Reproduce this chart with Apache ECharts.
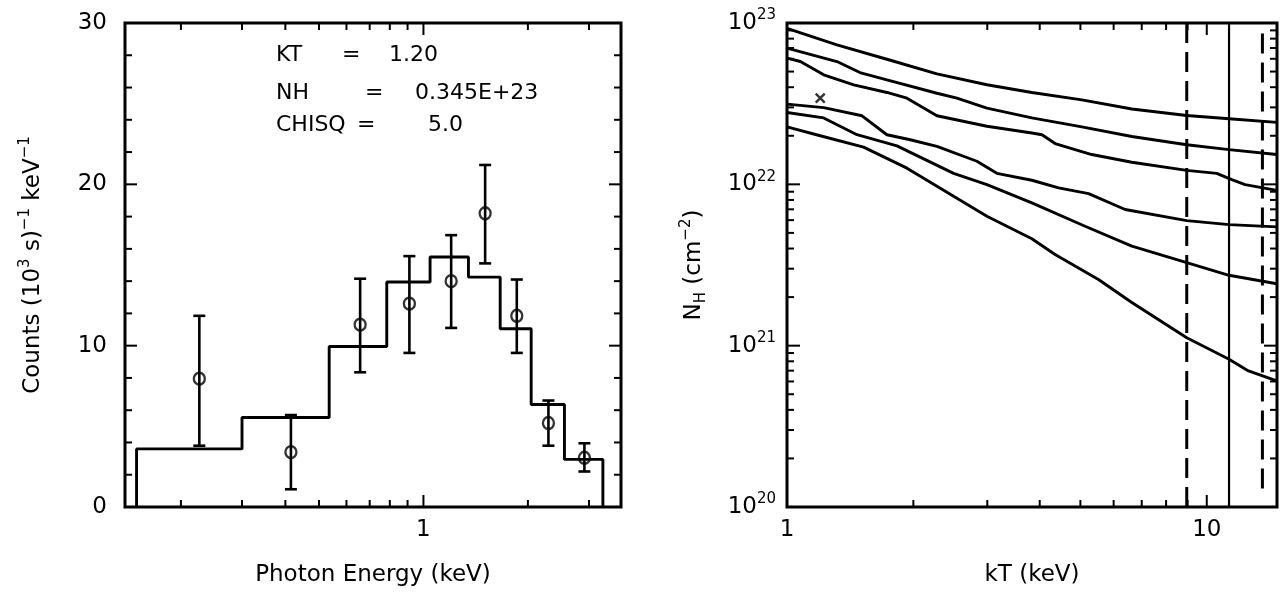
<!DOCTYPE html>
<html>
<head>
<meta charset="utf-8">
<script src="https://cdn.jsdelivr.net/npm/echarts@6.0.0/dist/echarts.min.js"></script>
<style>
html,body{margin:0;padding:0;background:#fff}
#c{width:1284px;height:592px}
</style>
</head>
<body>
<div id="c"></div>
<script>
var FONT = 'DejaVu Sans';

// left panel: counts spectrum (histogram model + data points)
var binEdges = [0.149, 0.30, 0.535, 0.784, 1.045, 1.348, 1.664, 2.044, 2.549, 3.29];
var binLevels = [3.6, 5.55, 9.95, 13.95, 15.5, 14.25, 11.05, 6.35, 2.95];
var ptE = [0.226, 0.415, 0.657, 0.911, 1.202, 1.506, 1.858, 2.292, 2.91];
var ptCounts = [7.95, 3.4, 11.3, 12.6, 14.0, 18.2, 11.85, 5.2, 3.05];
var ptLow = [3.8, 1.1, 8.35, 9.55, 11.1, 15.1, 9.55, 3.8, 2.2];
var ptHigh = [11.85, 5.7, 14.15, 15.55, 16.85, 21.2, 14.1, 6.6, 3.95];

// right panel: NH vs kT contours
var c1kT = [1, 1.315, 1.73, 2.276, 2.994, 3.831, 5.04, 6.63, 8.96, 11.3, 14.68];
var c1NH = [9.27e22, 7.31e22, 5.96e22, 4.84e22, 4.14e22, 3.71e22, 3.34e22, 2.93e22, 2.67e22, 2.55e22, 2.42e22];
var c2kT = [1, 1.315, 1.492, 1.73, 2.276, 2.54, 2.994, 3.831, 5.04, 6.63, 8.96, 11.3, 14.68];
var c2NH = [6.98e22, 5.77e22, 4.93e22, 4.44e22, 3.67e22, 3.42e22, 2.97e22, 2.58e22, 2.27e22, 1.98e22, 1.76e22, 1.64e22, 1.53e22];
var c3kT = [1, 1.076, 1.223, 1.442, 1.73, 1.931, 2.276, 2.994, 3.831, 4.05, 4.352, 5.32, 6.63, 8.96, 10.56, 11.47, 12.34, 14.68];
var c3NH = [6.05e22, 5.77e22, 4.77e22, 4.14e22, 3.71e22, 3.42e22, 2.66e22, 2.29e22, 2.08e22, 2.03e22, 1.79e22, 1.53e22, 1.37e22, 1.22e22, 1.17e22, 1.07e22, 9.95e21, 9.18e21];
var c4kT = [1, 1.223, 1.509, 1.73, 1.966, 2.276, 2.834, 3.162, 3.831, 4.436, 5.23, 6.39, 8.96, 11.3, 14.68];
var c4NH = [3.14e22, 2.99e22, 2.66e22, 2.03e22, 1.89e22, 1.72e22, 1.39e22, 1.17e22, 1.06e22, 9.51e21, 8.76e21, 6.98e21, 5.96e21, 5.63e21, 5.45e21];
var c5kT = [1, 1.223, 1.468, 1.828, 2.494, 2.994, 3.831, 5.13, 6.63, 8.96, 11.3, 14.68];
var c5NH = [2.79e22, 2.58e22, 2.03e22, 1.73e22, 1.17e22, 9.95e21, 7.67e21, 5.50e21, 4.14e21, 3.27e21, 2.73e21, 2.42e21];
var c6kT = [1, 1.20, 1.522, 1.931, 2.494, 2.994, 3.831, 4.352, 5.52, 6.63, 8.96, 11.3, 12.57, 14.68];
var c6NH = [2.27e22, 2.00e22, 1.70e22, 1.26e22, 8.43e21, 6.34e21, 4.60e21, 3.67e21, 2.57e21, 1.85e21, 1.12e21, 8.24e20, 6.97e20, 6.05e20];
var bestKT = [1.20];
var bestNH = [3.42e22];
var dashKT = [8.96, 13.57];
var dashLo = [1.0e20, 1.3e20];
var dashHi = [1.0e23, 8.7e22];
var solidKT = [11.3];

// tick values
var cntMajor = [0, 10, 20, 30];
var cntMinor = [2, 4, 6, 8, 12, 14, 16, 18, 22, 24, 26, 28];
var eMajor = [1];
var eMinor = [0.2, 0.3, 0.4, 0.5, 0.6, 0.7, 0.8, 0.9, 2, 3];
var ktMajor = [1, 10];
var ktMinor = [2, 3, 4, 5, 6, 7, 8, 9];
var nhMajor = [1e20, 1e21, 1e22, 1e23];
var nhDecades = [1e20, 1e21, 1e22];
var mant = [2, 3, 4, 5, 6, 7, 8, 9];
var nhMinor = [];
nhDecades.forEach(function (d) { mant.forEach(function (m) { nhMinor.push(m * d); }); });

function zip(a, b) { return a.map(function (v, i) { return [v, b[i]]; }); }

var histPts = [[binEdges[0], 0]];
for (var i = 0; i < binLevels.length; i++) {
  histPts.push([binEdges[i], binLevels[i]]);
  histPts.push([binEdges[i + 1], binLevels[i]]);
}
histPts.push([binEdges[binEdges.length - 1], 0]);

// ticks on both sides of a frame
function ticks(gi, axis, vals, len, ref) {
  return {
    type: 'custom', xAxisIndex: gi, yAxisIndex: gi, silent: true, z: 5,
    data: vals.map(function (v) { return axis === 'x' ? [v, ref] : [ref, v]; }),
    renderItem: function (params, api) {
      var cs = params.coordSys;
      var p = api.coord([api.value(0), api.value(1)]);
      var L = [];
      if (axis === 'x') {
        L.push([p[0], cs.y + cs.height, p[0], cs.y + cs.height - len]);
        L.push([p[0], cs.y, p[0], cs.y + len]);
      } else {
        L.push([cs.x, p[1], cs.x + len, p[1]]);
        L.push([cs.x + cs.width, p[1], cs.x + cs.width - len, p[1]]);
      }
      return {
        type: 'group',
        children: L.map(function (l) {
          return { type: 'line', shape: { x1: l[0], y1: l[1], x2: l[2], y2: l[3] }, style: { stroke: '#000', lineWidth: 2 } };
        })
      };
    }
  };
}

function curve(x, y) {
  return {
    type: 'line', xAxisIndex: 1, yAxisIndex: 1, data: zip(x, y), symbol: 'none',
    lineStyle: { color: '#000', width: 2.9 }, silent: true
  };
}

function vline(kT, lo, hi, dashed) {
  return {
    type: 'line', xAxisIndex: 1, yAxisIndex: 1, data: [[kT, lo], [kT, hi]], symbol: 'none', silent: true,
    lineStyle: { color: '#000', width: dashed ? 3 : 2.2, type: dashed ? [20, 9] : 'solid' }
  };
}

var labelStyle = { color: '#000', fontSize: 23, fontFamily: FONT };
var nameStyle = { color: '#000', fontSize: 23, fontFamily: FONT };
var supRich = {
  t: { fontSize: 23, fontFamily: FONT, color: '#000', lineHeight: 30 },
  s: { fontSize: 15, fontFamily: FONT, color: '#000', verticalAlign: 'top' },
  h: { fontSize: 15, fontFamily: FONT, color: '#000', verticalAlign: 'bottom' }
};

var myChart = echarts.init(document.getElementById('c'));
var option = {
  animation: false,
  backgroundColor: '#fff',
  grid: [
    { left: 125, top: 23, width: 496, height: 485, show: true, borderColor: '#000', borderWidth: 3 },
    { left: 787, top: 23, width: 490, height: 485, show: true, borderColor: '#000', borderWidth: 3 }
  ],
  xAxis: [
    {
      type: 'log', gridIndex: 0, min: 0.138, max: 3.71, logBase: 10,
      axisLine: { show: false }, axisTick: { show: false }, splitLine: { show: false },
      axisLabel: Object.assign({ margin: 12, showMinLabel: false, showMaxLabel: false }, labelStyle),
      name: 'Photon Energy (keV)', nameLocation: 'middle', nameGap: 57, nameTextStyle: nameStyle
    },
    {
      type: 'log', gridIndex: 1, min: 1, max: 14.7, logBase: 10,
      axisLine: { show: false }, axisTick: { show: false }, splitLine: { show: false },
      axisLabel: Object.assign({ margin: 12, showMaxLabel: false }, labelStyle),
      name: 'kT (keV)', nameLocation: 'middle', nameGap: 57, nameTextStyle: nameStyle
    }
  ],
  yAxis: [
    {
      type: 'value', gridIndex: 0, min: 0, max: 30, interval: 10,
      axisLine: { show: false }, axisTick: { show: false }, splitLine: { show: false },
      axisLabel: Object.assign({ margin: 18, padding: [5, 0, 0, 0] }, labelStyle),
      name: '{t|Counts (10}{s|3}{t| s)}{s|−1}{t| keV}{s|−1}',
      nameLocation: 'middle', nameGap: 77, nameRotate: 90,
      nameTextStyle: { color: '#000', rich: supRich }
    },
    {
      type: 'log', gridIndex: 1, min: 1e20, max: 1e23, logBase: 10,
      axisLine: { show: false }, axisTick: { show: false }, splitLine: { show: false },
      axisLabel: {
        margin: 11, color: '#000',
        formatter: function (v) { return '{t|10}{s|' + Math.round(Math.log10(v)) + '}'; },
        rich: supRich
      },
      name: '{t|N}{h|H}{t| (cm}{s|−2}{t|)}',
      nameLocation: 'middle', nameGap: 78, nameRotate: 90,
      nameTextStyle: { color: '#000', rich: supRich }
    }
  ],
  graphic: [
    { type: 'text', x: 276, y: 55, style: { text: 'KT', font: '22px "DejaVu Sans"', fill: '#000', verticalAlign: 'middle' } },
    { type: 'text', x: 342, y: 55, style: { text: '=', font: '22px "DejaVu Sans"', fill: '#000', verticalAlign: 'middle' } },
    { type: 'text', x: 389, y: 55, style: { text: '1.20', font: '22px "DejaVu Sans"', fill: '#000', verticalAlign: 'middle' } },
    { type: 'text', x: 276, y: 93, style: { text: 'NH', font: '22px "DejaVu Sans"', fill: '#000', verticalAlign: 'middle' } },
    { type: 'text', x: 365, y: 93, style: { text: '=', font: '22px "DejaVu Sans"', fill: '#000', verticalAlign: 'middle' } },
    { type: 'text', x: 415, y: 93, style: { text: '0.345E+23', font: '22px "DejaVu Sans"', fill: '#000', verticalAlign: 'middle' } },
    { type: 'text', x: 276, y: 125, style: { text: 'CHISQ', font: '22px "DejaVu Sans"', fill: '#000', verticalAlign: 'middle' } },
    { type: 'text', x: 357, y: 125, style: { text: '=', font: '22px "DejaVu Sans"', fill: '#000', verticalAlign: 'middle' } },
    { type: 'text', x: 428, y: 125, style: { text: '5.0', font: '22px "DejaVu Sans"', fill: '#000', verticalAlign: 'middle' } }
  ],
  series: [
    ticks(0, 'x', eMajor, 12, 1),
    ticks(0, 'x', eMinor, 7, 1),
    ticks(0, 'y', cntMajor, 12, 1),
    ticks(0, 'y', cntMinor, 7, 1),
    ticks(1, 'x', ktMajor, 12, 1e21),
    ticks(1, 'x', ktMinor, 7, 1e21),
    ticks(1, 'y', nhMajor, 13, 2),
    ticks(1, 'y', nhMinor, 7, 2),
    {
      type: 'line', xAxisIndex: 0, yAxisIndex: 0, data: histPts, symbol: 'none', silent: true,
      lineStyle: { color: '#000', width: 2.9 }
    },
    {
      type: 'custom', xAxisIndex: 0, yAxisIndex: 0, silent: true,
      data: ptE.map(function (e, i) { return [e, ptCounts[i], ptLow[i], ptHigh[i]]; }),
      encode: { x: 0, y: [1, 2, 3] },
      renderItem: function (params, api) {
        var lo = api.coord([api.value(0), api.value(2)]);
        var hi = api.coord([api.value(0), api.value(3)]);
        var w = 6, st = { stroke: '#000', lineWidth: 2.6 };
        return {
          type: 'group', children: [
            { type: 'line', shape: { x1: lo[0], y1: lo[1], x2: hi[0], y2: hi[1] }, style: st },
            { type: 'line', shape: { x1: lo[0] - w, y1: lo[1], x2: lo[0] + w, y2: lo[1] }, style: st },
            { type: 'line', shape: { x1: hi[0] - w, y1: hi[1], x2: hi[0] + w, y2: hi[1] }, style: st }
          ]
        };
      }
    },
    {
      type: 'scatter', xAxisIndex: 0, yAxisIndex: 0, data: zip(ptE, ptCounts), silent: true,
      symbol: 'circle', symbolSize: [11, 12],
      itemStyle: { color: 'rgba(0,0,0,0)', borderColor: '#000', borderWidth: 2.4 }
    },
    curve(c1kT, c1NH), curve(c2kT, c2NH), curve(c3kT, c3NH),
    curve(c4kT, c4NH), curve(c5kT, c5NH), curve(c6kT, c6NH),
    vline(dashKT[0], dashLo[0], dashHi[0], true),
    vline(dashKT[1], dashLo[1], dashHi[1], true),
    vline(solidKT[0], 1e20, 1e23, false),
    {
      type: 'scatter', xAxisIndex: 1, yAxisIndex: 1, data: zip(bestKT, bestNH), silent: true,
      symbol: 'path://M0,0L10,10M10,0L0,10', symbolSize: 9,
      itemStyle: { color: 'rgba(0,0,0,0)', borderColor: '#000', borderWidth: 2.4 }
    }
  ]
};
option && myChart.setOption(option);
</script>
</body>
</html>
